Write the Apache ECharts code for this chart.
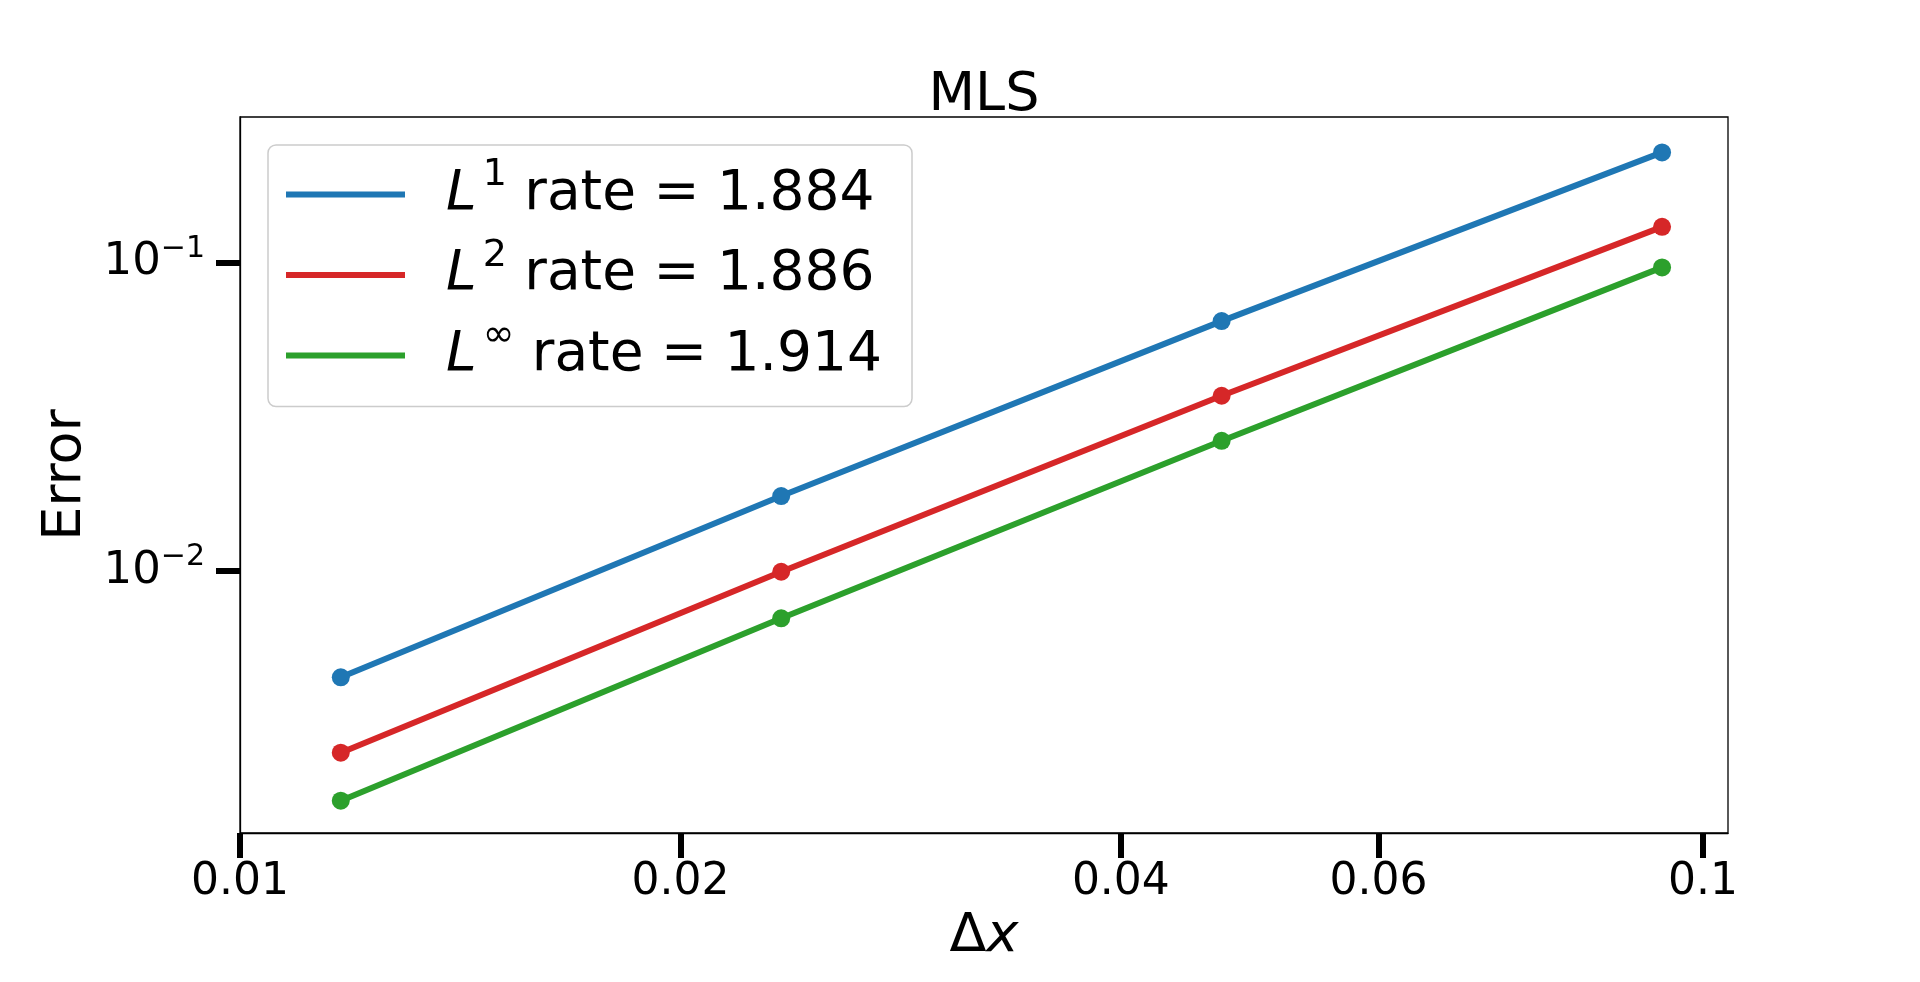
<!DOCTYPE html>
<html>
<head>
<meta charset="utf-8">
<title>MLS</title>
<script src="https://cdn.jsdelivr.net/npm/echarts@6/dist/echarts.min.js"></script>
<style>
  html, body { margin: 0; padding: 0; background: #fff; }
  #chart { width: 1920px; height: 982px; }
</style>
</head>
<body>
<div id="chart"></div>
<script>
// grid spacing and errors
var dx = [0.01171875, 0.0234375, 0.046875, 0.09375];
var errL1 = [0.00452, 0.01751, 0.06469, 0.2281];
var errL2 = [0.002574, 0.009948, 0.03704, 0.1308];
var errLinf = [0.001799, 0.007025, 0.02646, 0.09663];

var seriesNames = ['L1', 'L2', 'Linf'];
var normSup = ['1', '2', '\u221e'];
var rates = ['1.884', '1.886', '1.914'];
var colors = ['#1f77b4', '#d62728', '#2ca02c'];

var xTickValues = [0.01, 0.02, 0.04, 0.06, 0.1];
var xTickLabels = ['0.01', '0.02', '0.04', '0.06', '0.1'];
var yTickValues = [0.01, 0.1];
var yTickLabels = ['\u22122', '\u22121'];

var font = 'DejaVu Sans';

function pairs(xs, ys) {
    var out = [];
    for (var i = 0; i < xs.length; i++) out.push([xs[i], ys[i]]);
    return out;
}

function closest(list, v) {
    var best = 0;
    for (var i = 1; i < list.length; i++) {
        if (Math.abs(Math.log(list[i] / v)) < Math.abs(Math.log(list[best] / v))) best = i;
    }
    return best;
}

var chart = echarts.init(document.getElementById('chart'), null, { renderer: 'canvas' });

var allErr = [errL1, errL2, errLinf];
var series = [];
for (var k = 0; k < 3; k++) {
    series.push({
        name: seriesNames[k],
        type: 'line',
        data: pairs(dx, allErr[k]),
        symbol: 'circle',
        symbolSize: 18,
        showSymbol: true,
        lineStyle: { width: 6, color: colors[k] },
        itemStyle: { color: colors[k] },
        emphasis: { disabled: true },
        z: 3 + k
    });
}

var option = {
    animation: false,
    backgroundColor: '#fff',
    textStyle: { fontFamily: font },
    title: {
        text: 'MLS',
        left: 984,
        top: 69,
        padding: 0,
        textAlign: 'center',
        textStyle: { fontFamily: font, fontSize: 54, fontWeight: 'normal', color: '#000' }
    },
    legend: {
        orient: 'vertical',
        left: 268,
        top: 145,
        padding: [11.5, 30, 23.5, 18],
        itemGap: 15,
        itemWidth: 119,
        itemHeight: 6,
        icon: 'rect',
        backgroundColor: 'rgba(255,255,255,0.8)',
        borderColor: '#cccccc',
        borderWidth: 1.5,
        borderRadius: 8,
        data: seriesNames,
        formatter: function (name) {
            var i = seriesNames.indexOf(name);
            return '{i|L}{s|' + normSup[i] + '}{t| rate = ' + rates[i] + '}';
        },
        textStyle: {
            fontFamily: font,
            color: '#000',
            rich: {
                i: { fontFamily: font, fontStyle: 'italic', fontSize: 55, lineHeight: 76, padding: [0, 0, 0, 36], color: '#000' },
                s: { fontFamily: font, fontSize: 38, verticalAlign: 'top', padding: [0, 0, 0, 6], color: '#000' },
                t: { fontFamily: font, fontSize: 55, lineHeight: 76, color: '#000' }
            }
        }
    },
    grid: {
        left: 240,
        top: 117,
        right: 192,
        bottom: 149,
        show: true,
        borderColor: '#000',
        borderWidth: 1.3,
        backgroundColor: 'transparent'
    },
    xAxis: {
        type: 'log',
        logBase: 10,
        min: 0.01,
        max: 0.104,
        name: '{d|\u0394}{x|x}',
        nameLocation: 'middle',
        nameGap: 72,
        nameTextStyle: {
            rich: {
                d: { fontFamily: font, fontSize: 54, color: '#000' },
                x: { fontFamily: font, fontSize: 54, fontStyle: 'italic', color: '#000' }
            }
        },
        axisLine: { show: true, lineStyle: { color: '#000', width: 1.3 } },
        axisTick: {
            show: true,
            inside: false,
            length: 25,
            customValues: xTickValues,
            lineStyle: { color: '#000', width: 6 }
        },
        minorTick: { show: false },
        splitLine: { show: false },
        axisLabel: {
            customValues: xTickValues,
            margin: 28,
            fontFamily: font,
            fontSize: 44,
            color: '#000',
            formatter: function (v) {
                return xTickLabels[closest(xTickValues, v)];
            }
        }
    },
    yAxis: {
        type: 'log',
        logBase: 10,
        min: 0.001413,
        max: 0.2972,
        name: 'Error',
        nameLocation: 'middle',
        nameGap: 138,
        nameTextStyle: { fontFamily: font, fontSize: 54, color: '#000' },
        axisLine: { show: true, lineStyle: { color: '#000', width: 1.3 } },
        axisTick: {
            show: true,
            inside: false,
            length: 24,
            customValues: yTickValues,
            lineStyle: { color: '#000', width: 6 }
        },
        minorTick: { show: false },
        splitLine: { show: false },
        axisLabel: {
            customValues: yTickValues,
            margin: 35,
            color: '#000',
            formatter: function (v) {
                return '{b|10}{s|' + yTickLabels[closest(yTickValues, v)] + '}';
            },
            rich: {
                b: { fontFamily: font, fontSize: 45, lineHeight: 58, color: '#000' },
                s: { fontFamily: font, fontSize: 30, verticalAlign: 'top', color: '#000' }
            }
        }
    },
    series: series
};

chart.setOption(option);
</script>
</body>
</html>
